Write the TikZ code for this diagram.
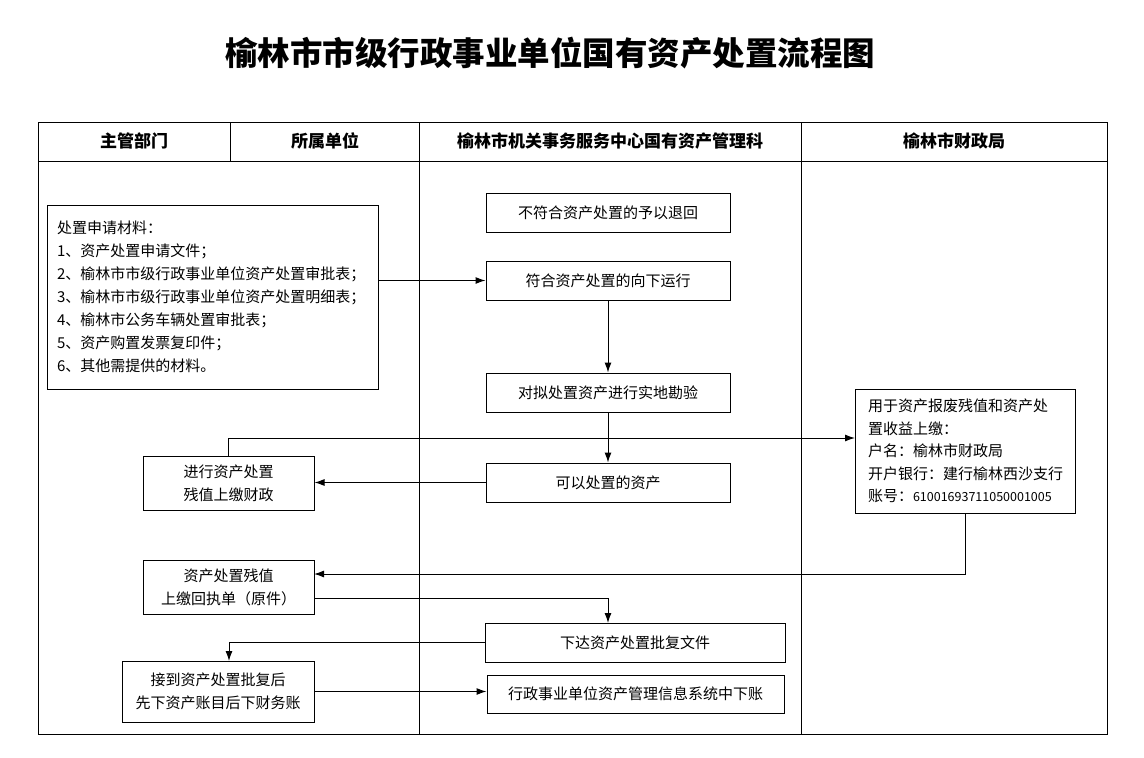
\documentclass[tikz,border=0pt]{standalone}
\usepackage{fontspec}
\setmainfont{Noto Sans CJK SC}
\usetikzlibrary{arrows.meta,positioning,calc}

\begin{document}
\begin{tikzpicture}[
  x=1pt,
  y=-1pt,
  line width=1pt,
  box/.style={draw=black, inner sep=0pt, font=\fontsize{15}{23}\selectfont, align=center},
  arr/.style={-{Latex[length=10pt,width=7pt]}},
  head/.style={font=\fontsize{17}{20}\selectfont\bfseries}
]
  \useasboundingbox (0,0) rectangle (1144,758);
  % Title
  \node[font=\fontsize{32.5}{36}\selectfont\bfseries] (title) at (550,53) {榆林市市级行政事业单位国有资产处置流程图};
  % Table frame: header row, then three lanes
  \draw (38,122) rectangle (1107,734);
  \draw (38,161) -- (1107,161);
  \draw (230,122) -- (230,161);
  \draw (419,122) -- (419,734);
  \draw (801,122) -- (801,734);
  \node[head] (hzg) at (134,141) {主管部门};
  \node[head] (hss) at (325,141) {所属单位};
  \node[head] (hjg) at (610,141) {榆林市机关事务服务中心国有资产管理科};
  \node[head] (hcz) at (954,141) {榆林市财政局};
  % Left lane
  \node[box, align=left, text width=311pt, inner xsep=10pt, minimum height=184pt] (mat) at (212.5,297)
    {处置申请材料：\\1、资产处置申请文件；\\2、榆林市市级行政事业单位资产处置审批表；\\3、榆林市市级行政事业单位资产处置明细表；\\4、榆林市公务车辆处置审批表；\\5、资产购置发票复印件；\\6、其他需提供的材料。};
  \node[box, minimum width=171pt, minimum height=54pt] (proc) at (228.5,483) {进行资产处置\\残值上缴财政};
  \node[box, minimum width=171pt, minimum height=54pt] (rec) at (228.5,587) {资产处置残值\\上缴回执单（原件）};
  \node[box, minimum width=192pt, minimum height=61pt] (ack) at (218,691.5) {接到资产处置批复后\\先下资产账目后下财务账};
  % Middle lane
  \node[box, minimum width=244pt, minimum height=39pt] (rej) at (608,212.5) {不符合资产处置的予以退回};
  \node[box, minimum width=244pt, minimum height=39pt] (ok) at (608,280.5) {符合资产处置的向下运行};
  \node[box, minimum width=244pt, minimum height=39pt] (insp) at (608,392.5) {对拟处置资产进行实地勘验};
  \node[box, minimum width=244pt, minimum height=39pt] (can) at (608,482.5) {可以处置的资产};
  \node[box, minimum width=300pt, minimum height=39pt] (appr) at (635,642.5) {下达资产处置批复文件};
  \node[box, minimum width=297pt, minimum height=38pt] (led) at (635.5,694) {行政事业单位资产管理信息系统中下账};
  % Right lane
  \node[box, align=left, text width=194pt, inner xsep=13pt, minimum height=124pt, font=\fontsize{15}{22.5}\selectfont] (fin) at (965,451)
    {用于资产报废残值和资产处\\置收益上缴：\\户名：榆林市财政局\\开户银行：建行榆林西沙支行\\账号：{\fontsize{12.5}{22.5}\selectfont 61001693711050001005}};
  % Bend points
  \coordinate (finIn) at (855,438);
  \coordinate (recIn) at (314,574);
  \coordinate (recOut) at (314,598);
  \coordinate (apprIn) at (608,623);
  \coordinate (ackIn) at (229,661);
  % Connectors
  \draw[arr] (mat.east |- ok.west) -- (ok.west);
  \draw[arr] (ok.south) -- (insp.north);
  \draw[arr] (insp.south) -- (can.north);
  \draw[arr] (proc.north) |- (finIn);
  \draw[arr] (can.west) -- (can.west -| proc.east);
  \draw[arr] (fin.south) |- (recIn);
  \draw[arr] (recOut) -| (apprIn);
  \draw[arr] (appr.west) -| (ackIn);
  \draw[arr] (ack.east) -- (ack.east -| led.west);
\end{tikzpicture}
\end{document}
